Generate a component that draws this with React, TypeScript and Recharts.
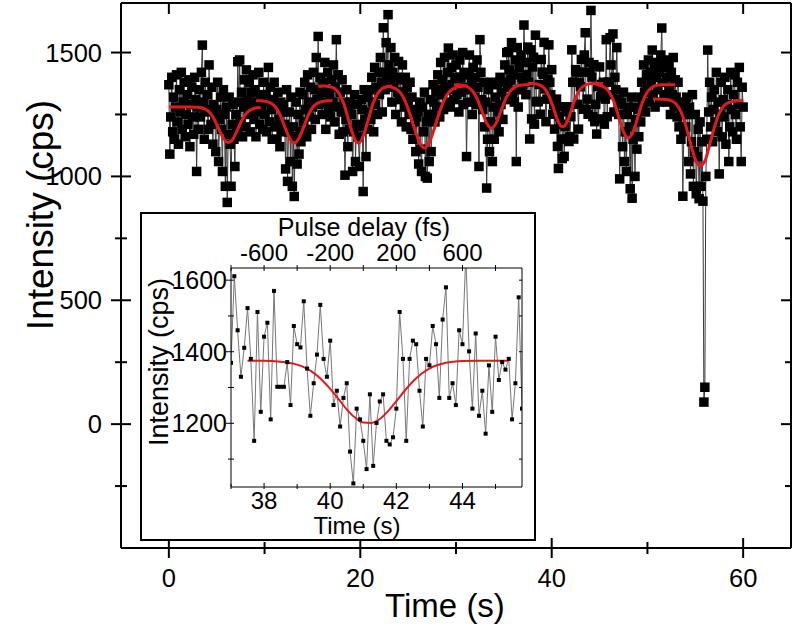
import React from 'react';
import { ComposedChart, Line, XAxis, YAxis } from 'recharts';

// ---------------- data ----------------
const mainStart = 0;
const mainStep = 0.1;
// measured intensity (cps), one value every 0.1 s from 0 s to 60 s
const mainValues: number[] = [
  1370, 1090, 1240, 1400, 1180, 1320, 1150, 1280, 1410, 1220,
  1130, 1350, 1260, 1420, 1190, 1300, 1380, 1160, 1250, 1330,
  1210, 1390, 1120, 1290, 1360, 1240, 1170, 1400, 1310, 1020,
  1280, 1190, 1350, 1240, 1420, 1530, 1300, 1150, 1380, 1260,
  1330, 1190, 1450, 1270, 1210, 1360, 1130, 1290, 1240, 1100,
  1270, 1380, 1060, 1230, 1320, 1190, 1020, 1350, 1250, 960,
  1280, 895, 1170, 1320, 1130, 960, 1210, 1290, 1150, 1040,
  1250, 1180, 1463, 1300, 1470, 1220, 1340, 1160, 1280, 1390,
  1200, 1430, 1310, 1250, 1380, 1180, 1340, 1290, 1410, 1230,
  1350, 1160, 1300, 1260, 1420, 1210, 1330, 1280, 1190, 1380,
  1250, 1330, 1180, 1300, 1440, 1220, 1360, 1270, 1150, 1310,
  1380, 1200, 1290, 1150, 1340, 1230, 1120, 1300, 1180, 1260,
  1290, 1210, 1030, 1350, 980, 1180, 1260, 1060, 1320, 960,
  1200, 919, 1160, 1300, 1050, 1250, 1090, 1340, 1140, 1180,
  1330, 1220, 1380, 1270, 1160, 1410, 1300, 1240, 1360, 1190,
  1280, 1420, 1350, 1230, 1480, 1310, 1565, 1290, 1400, 1340,
  1250, 1380, 1300, 1460, 1190, 1350, 1420, 1270, 1330, 1240,
  1390, 1300, 1450, 1220, 1360, 1552, 1280, 1410, 1170, 1340,
  1260, 1390, 1180, 1300, 1005, 1230, 1350, 1120, 1280, 1190,
  1300, 1250, 1020, 1180, 1330, 1060, 1210, 1290, 1160, 1040,
  1200, 1310, 1270, 939, 1350, 1230, 1080, 1320, 1190, 1260,
  1350, 1230, 1400, 1300, 1180, 1440, 1290, 1360, 1250, 1420,
  1330, 1480, 1380, 1260, 1600, 1420, 1350, 1540, 1400, 1653,
  1450, 1380, 1520, 1300, 1420, 1360, 1480, 1250, 1400, 1340,
  1464, 1310, 1390, 1220, 1450, 1340, 1280, 1400, 1200, 1360,
  1300, 1250, 1380, 1190, 1320, 1150, 1270, 1220, 1100, 1240,
  1260, 1050, 1300, 1110, 1020, 1280, 1180, 1340, 1000, 1220,
  993, 1250, 1060, 1310, 1100, 1250, 1370, 1300, 1220, 1340,
  1280, 1410, 1350, 1240, 1460, 1330, 1390, 1270, 1480, 1360,
  1300, 1420, 1518, 1350, 1280, 1440, 1370, 1490, 1310, 1400,
  1450, 1330, 1380, 1260, 1470, 1400, 1340, 1500, 1290, 1420,
  1360, 1080, 1300, 1410, 1490, 1350, 1380, 1250, 1440, 1320,
  1400, 1290, 1470, 1360, 1040, 1552, 1420, 1310, 1270, 1380,
  1200, 1300, 953, 1150, 1350, 1100, 1220, 1380, 1060, 1280,
  1150, 1320, 1210, 1370, 1260, 1180, 1400, 1290, 1340, 1230,
  1380, 1450, 1310, 1500, 1360, 1503, 1430, 1390, 1540, 1330,
  1410, 1300, 1470, 1060, 1520, 1280, 1440, 1350, 1490, 1400,
  1369, 1611, 1460, 1330, 1411, 1522, 1380, 1151, 1511, 1232,
  1442, 1481, 1211, 1570, 1302, 1302, 1302, 1371, 1251, 1472,
  1421, 1412, 1541, 1353, 1221, 1312, 1392, 1531, 1380, 1330,
  1431, 1251, 1291, 1191, 1271, 1312, 1121, 1032, 1241, 1211,
  1151, 1072, 1281, 1081, 1201, 1261, 1281, 1151, 1141, 1161,
  1241, 1511, 1380, 1151, 1380, 1431, 1421, 1291, 1191, 1380,
  1362, 1472, 1421, 1271, 1490, 1580, 1271, 1312, 1251, 1460,
  1421, 1670, 1401, 1241, 1451, 1221, 1291, 1171, 1362, 1232,
  1442, 1321, 1371, 1350, 1380, 1211, 1312, 1552, 1241, 1380,
  1380, 1560, 1450, 1330, 1575, 1260, 1400, 1350, 1520, 1310,
  1250, 990, 1290, 1300, 1120, 1340, 1060, 1180, 1020, 1250,
  1280, 1200, 950, 1320, 912, 1150, 1280, 1000, 1230, 1110,
  1270, 1160, 1320, 1220, 1380, 1290, 1450, 1340, 1260, 1410,
  1350, 1470, 1300, 1420, 1380, 1510, 1330, 1440, 1280, 1400,
  1460, 1350, 1420, 1300, 1490, 1599, 1380, 1440, 1330, 1470,
  1400, 1300, 1450, 1360, 1250, 1420, 1330, 1480, 1280, 1390,
  1320, 1240, 1380, 1200, 1300, 1150, 1260, 920, 1180, 1290,
  1200, 1320, 1250, 1060, 1280, 1010, 1140, 1330, 960, 1100,
  1250, 930, 1080, 1190, 910, 1220, 960, 1140, 900, 89,
  149, 1000, 1150, 1510, 1260, 1380, 1200, 1320, 1140, 1270,
  1350, 1220, 1420, 1180, 1300, 1010, 1250, 1380, 1160, 1310,
  1240, 1400, 1130, 1290, 1350, 1060, 1200, 1420, 1270, 1180,
  1330, 1410, 1250, 1150, 1380, 1290, 1440, 1200, 1060, 1360,
  1280,
];

// fitted dips (time s, intensity cps), one array per fitted window
const fitSeg1: number[][] = [[0, 1280], [1, 1280], [2, 1280], [3, 1279], [3.7, 1274], [4.2, 1261], [4.7, 1234], [5.2, 1193], [5.7, 1154], [6.2, 1137], [6.7, 1152], [7.2, 1191], [7.7, 1232], [8.2, 1259], [8.7, 1272], [9.2, 1277], [9.6, 1278]];
const fitSeg2: number[][] = [[9.1, 1305], [9.6, 1305], [10.1, 1303], [10.6, 1297], [11.1, 1282], [11.6, 1250], [12.1, 1201], [12.6, 1155], [13.1, 1134], [13.6, 1155], [14.1, 1201], [14.6, 1250], [15.1, 1282], [15.6, 1297], [16.1, 1303], [16.6, 1305], [17.1, 1305]];
const fitSeg3: number[][] = [[15.6, 1365], [16.3, 1365], [16.8, 1362], [17.3, 1355], [17.8, 1334], [18.3, 1291], [18.8, 1224], [19.3, 1162], [19.8, 1134], [20.3, 1162], [20.8, 1224], [21.3, 1291], [21.8, 1334], [22.3, 1355], [22.8, 1362], [23.3, 1365]];
const fitSeg4: number[][] = [[22.7, 1364], [23.2, 1361], [23.7, 1354], [24.2, 1337], [24.7, 1303], [25.2, 1250], [25.7, 1188], [26.2, 1136], [26.7, 1115], [27.2, 1136], [27.7, 1188], [28.2, 1250], [28.7, 1303], [29.2, 1337], [29.7, 1354], [30.2, 1361], [30.7, 1364], [31.2, 1365]];
const fitSeg5: number[][] = [[29.8, 1370], [30.2, 1370], [30.7, 1368], [31.2, 1362], [31.7, 1346], [32.2, 1314], [32.7, 1264], [33.2, 1216], [33.7, 1195], [34.2, 1216], [34.7, 1264], [35.2, 1314], [35.7, 1346], [36.2, 1362], [36.7, 1368], [37.2, 1370], [37.7, 1370]];
const fitSeg6: number[][] = [[37.5, 1375], [38.0, 1375], [38.5, 1372], [39.0, 1364], [39.25, 1355], [39.5, 1341], [39.75, 1321], [40.0, 1296], [40.25, 1268], [40.5, 1239], [40.75, 1216], [41.0, 1202], [41.25, 1201], [41.5, 1212], [41.75, 1234], [42.0, 1262], [42.25, 1291], [42.5, 1317], [42.75, 1338], [43.0, 1353], [43.5, 1369], [44.0, 1374], [44.5, 1375], [45.0, 1375], [45.37, 1375]];
const fitSeg7: number[][] = [[44.6, 1370], [45.0, 1368], [45.5, 1360], [46.0, 1341], [46.5, 1301], [47.0, 1240], [47.5, 1181], [48.0, 1155], [48.5, 1181], [49.0, 1240], [49.5, 1301], [50.0, 1341], [50.5, 1360], [51.0, 1368], [51.5, 1370], [52.0, 1370], [52.9, 1370]];
const fitSeg8: number[][] = [[50.6, 1312], [51.5, 1311], [52.0, 1310], [52.5, 1305], [53.0, 1292], [53.5, 1261], [54.0, 1206], [54.5, 1134], [55.0, 1069], [55.5, 1043], [56.0, 1062], [56.5, 1127], [57.0, 1199], [57.5, 1254], [58.0, 1285], [58.5, 1298], [59.0, 1303], [59.5, 1305], [60.0, 1305]];

// axes
const mainXTicks = [0, 10, 20, 30, 40, 50, 60];
const mainXLabels = [0, 20, 40, 60];
const mainYTicks = [-250, 0, 250, 500, 750, 1000, 1250, 1500];
const mainYLabels = [0, 500, 1000, 1500];

// inset
const insetRange = [37, 45.8];
const insetXTicks = [37, 38, 39, 40, 41, 42, 43, 44, 45];
const insetXLabels = [38, 40, 42, 44];
const insetYTicks = [1100, 1200, 1300, 1400, 1500, 1600];
const insetYLabels = [1200, 1400, 1600];
const delayZeroTime = 41; // s, zero pulse delay
const delayPerSecond = 200; // fs per s
const delayTicks = [-800, -600, -400, -200, 0, 200, 400, 600, 800];
const delayLabels = [-600, -200, 200, 600];

// ---------------- derived tables ----------------
const mainData = mainValues.map((v, i) => ({ t: +(mainStart + i * mainStep).toFixed(2), v }));
const fitSegs = [fitSeg1, fitSeg2, fitSeg3, fitSeg4, fitSeg5, fitSeg6, fitSeg7, fitSeg8].map((s) =>
  s.map(([t, v]) => ({ t, v }))
);
const insetData = mainData.filter((d) => d.t >= insetRange[0] - 1e-6 && d.t <= insetRange[1] + 1e-6);
const insetFit = fitSeg6.map(([t, v]) => ({ fs: (t - delayZeroTime) * delayPerSecond, v }));

const FONT = 'Liberation Sans, Arial, Helvetica, sans-serif';
const RED = '#e3191c';
const MAIN_X_DOMAIN = [-5, 65];
const MAIN_Y_DOMAIN = [-500, 1700];

// ---------------- tick renderers ----------------
const MainBottomTick = (p: any) => {
  const { x, y, payload } = p;
  const major = mainXLabels.includes(payload.value);
  const len = major ? 10 : 6;
  return (
    <g>
      <line x1={x} x2={x} y1={y - len} y2={y + len} stroke="#000" strokeWidth={2} />
      {major && (
        <text x={x} y={y + 39} textAnchor="middle" fontSize={25.5} fontFamily={FONT} fill="#000">
          {payload.value}
        </text>
      )}
    </g>
  );
};
const MainTopTick = (p: any) => {
  const { x, y, payload } = p;
  const major = mainXLabels.includes(payload.value);
  const len = major ? 11 : 6;
  return <line x1={x} x2={x} y1={y} y2={y + len} stroke="#000" strokeWidth={2} />;
};
const MainLeftTick = (p: any) => {
  const { x, y, payload } = p;
  const major = mainYLabels.includes(payload.value);
  const len = major ? 10 : 6;
  return (
    <g>
      <line x1={x - len} x2={x + len} y1={y} y2={y} stroke="#000" strokeWidth={2} />
      {major && (
        <text x={x - 19} y={y + 9} textAnchor="end" fontSize={25.5} fontFamily={FONT} fill="#000">
          {payload.value}
        </text>
      )}
    </g>
  );
};
const MainRightTick = (p: any) => {
  const { x, y, payload } = p;
  const major = mainYLabels.includes(payload.value);
  const len = major ? 10 : 6;
  return <line x1={x - len} x2={x} y1={y} y2={y} stroke="#000" strokeWidth={2} />;
};
const NoTick = () => <g />;

const InsetBottomTick = (p: any) => {
  const { x, y, payload } = p;
  const major = insetXLabels.includes(payload.value);
  const len = major ? 4 : 3;
  return (
    <g>
      <line x1={x} x2={x} y1={y - len} y2={y + 2} stroke="#000" strokeWidth={1} />
      {major && (
        <text x={x} y={y + 22} textAnchor="middle" fontSize={24} fontFamily={FONT} fill="#000">
          {payload.value}
        </text>
      )}
    </g>
  );
};
const InsetTopTick = (p: any) => {
  const { x, y, payload } = p;
  const major = delayLabels.includes(payload.value);
  return (
    <g>
      <line x1={x} x2={x} y1={y - 3} y2={y + 3} stroke="#000" strokeWidth={1} />
      {major && (
        <text x={x} y={y - 7} textAnchor="middle" fontSize={24} fontFamily={FONT} fill="#000">
          {payload.value}
        </text>
      )}
    </g>
  );
};
const InsetLeftTick = (p: any) => {
  const { x, y, payload } = p;
  const major = insetYLabels.includes(payload.value);
  return (
    <g>
      <line x1={x - (major ? 5 : 3)} x2={x + 3} y1={y} y2={y} stroke="#000" strokeWidth={1} />
      {major && (
        <text x={x - 4} y={y + 9} textAnchor="end" fontSize={25} fontFamily={FONT} fill="#000">
          {payload.value}
        </text>
      )}
    </g>
  );
};
const InsetRightTick = (p: any) => {
  const { x, y } = p;
  return <line x1={x - 3} x2={x} y1={y} y2={y} stroke="#000" strokeWidth={1} />;
};

const squareDot = (size: number) => (p: any) => {
  const { cx, cy, index } = p;
  if (cx == null || cy == null) return <g key={`e${index}`} />;
  return <rect key={`d${index}`} x={cx - size / 2} y={cy - size / 2} width={size} height={size} fill="#000" />;
};
const mainDot = squareDot(9.5);
const insetDot = squareDot(4);

const axisLine2 = { stroke: '#000', strokeWidth: 2 };
const axisLine1 = { stroke: '#000', strokeWidth: 1 };

// main axes (shared geometry for the data layer and the fit overlay)
const mainAxes = (visible: boolean) => [
  <XAxis
    key="xb"
    xAxisId="b"
    type="number"
    dataKey="t"
    orientation="bottom"
    domain={MAIN_X_DOMAIN}
    ticks={mainXTicks}
    interval={0}
    height={86}
    tickSize={0}
    tickMargin={0}
    tickLine={false}
    axisLine={visible ? axisLine2 : false}
    tick={visible ? MainBottomTick : NoTick}
    allowDataOverflow
    label={
      visible
        ? {
            content: () => (
              <text x={445} y={617} textAnchor="middle" fontSize={33} fontFamily={FONT} fill="#000">
                Time (s)
              </text>
            ),
          }
        : undefined
    }
  />,
  <XAxis
    key="xt"
    xAxisId="t"
    type="number"
    dataKey="t"
    orientation="top"
    domain={MAIN_X_DOMAIN}
    ticks={mainXTicks}
    interval={0}
    height={3}
    tickSize={0}
    tickMargin={0}
    tickLine={false}
    axisLine={visible ? axisLine2 : false}
    tick={visible ? MainTopTick : NoTick}
    allowDataOverflow
  />,
  <YAxis
    key="yl"
    yAxisId="l"
    type="number"
    orientation="left"
    domain={MAIN_Y_DOMAIN}
    ticks={mainYTicks}
    interval={0}
    width={121}
    tickSize={0}
    tickMargin={0}
    tickLine={false}
    axisLine={visible ? axisLine2 : false}
    tick={visible ? MainLeftTick : NoTick}
    allowDataOverflow
    label={
      visible
        ? {
            content: () => (
              <text
                x={53}
                y={215}
                transform="rotate(-90 53 215)"
                textAnchor="middle"
                fontSize={37}
                fontFamily={FONT}
                fill="#000"
              >
                Intensity (cps)
              </text>
            ),
          }
        : undefined
    }
  />,
  <YAxis
    key="yr"
    yAxisId="r"
    type="number"
    orientation="right"
    domain={MAIN_Y_DOMAIN}
    ticks={mainYTicks}
    interval={0}
    width={2}
    tickSize={0}
    tickMargin={0}
    tickLine={false}
    axisLine={visible ? axisLine2 : false}
    tick={visible ? MainRightTick : NoTick}
    allowDataOverflow
  />,
];

const abs: React.CSSProperties = { position: 'absolute', left: 0, top: 0 };

export default function App() {
  return (
    <div style={{ position: 'absolute', left: 0, top: 0, width: 793, height: 634, background: '#fff' }}>
      <div style={abs}>
        <ComposedChart width={793} height={634} margin={{ top: 0, right: 0, bottom: 0, left: 0 }}>
          {mainAxes(true)}
          <Line
            xAxisId="b"
            yAxisId="l"
            data={mainData}
            dataKey="v"
            type="linear"
            stroke="#3a3a3a"
            strokeWidth={1}
            dot={mainDot}
            activeDot={false}
            isAnimationActive={false}
          />
        </ComposedChart>
      </div>

      <div style={{ ...abs, pointerEvents: 'none' }}>
        <ComposedChart width={793} height={634} margin={{ top: 0, right: 0, bottom: 0, left: 0 }}>
          {mainAxes(false)}
          {fitSegs.map((seg, i) => (
            <Line
              key={`fit${i}`}
              xAxisId="t"
              yAxisId="r"
              data={seg}
              dataKey="v"
              type="monotone"
              stroke={RED}
              strokeWidth={3}
              dot={false}
              activeDot={false}
              isAnimationActive={false}
            />
          ))}
        </ComposedChart>
      </div>

      <div
        style={{
          position: 'absolute',
          left: 140,
          top: 212,
          width: 396,
          height: 329,
          border: '2px solid #000',
          boxSizing: 'border-box',
          background: '#fff',
        }}
      >
        <ComposedChart width={392} height={325} margin={{ top: 0, right: 0, bottom: 0, left: 0 }}>
          <XAxis
            xAxisId="b"
            type="number"
            dataKey="t"
            orientation="bottom"
            domain={insetRange}
            ticks={insetXTicks}
            interval={0}
            height={52}
            tickSize={0}
            tickMargin={0}
            tickLine={false}
            axisLine={axisLine1}
            tick={InsetBottomTick}
            allowDataOverflow
            label={{
              content: () => (
                <text x={215} y={320} textAnchor="middle" fontSize={24} fontFamily={FONT} fill="#000">
                  Time (s)
                </text>
              ),
            }}
          />
          <XAxis
            xAxisId="fs"
            type="number"
            dataKey="fs"
            orientation="top"
            domain={[(insetRange[0] - delayZeroTime) * delayPerSecond, (insetRange[1] - delayZeroTime) * delayPerSecond]}
            ticks={delayTicks}
            interval={0}
            height={54}
            tickSize={0}
            tickMargin={0}
            tickLine={false}
            axisLine={axisLine1}
            tick={InsetTopTick}
            allowDataOverflow
            label={{
              content: () => (
                <text x={222} y={22} textAnchor="middle" fontSize={25} fontFamily={FONT} fill="#000">
                  Pulse delay (fs)
                </text>
              ),
            }}
          />
          <YAxis
            yAxisId="l"
            type="number"
            orientation="left"
            domain={[1022, 1634]}
            ticks={insetYTicks}
            interval={0}
            width={89}
            tickSize={0}
            tickMargin={0}
            tickLine={false}
            axisLine={axisLine1}
            tick={InsetLeftTick}
            allowDataOverflow
            label={{
              content: () => (
                <text
                  x={26}
                  y={148}
                  transform="rotate(-90 26 148)"
                  textAnchor="middle"
                  fontSize={27}
                  fontFamily={FONT}
                  fill="#000"
                >
                  Intensity (cps)
                </text>
              ),
            }}
          />
          <YAxis
            yAxisId="r"
            type="number"
            orientation="right"
            domain={[1022, 1634]}
            ticks={insetYTicks}
            interval={0}
            width={12}
            tickSize={0}
            tickMargin={0}
            tickLine={false}
            axisLine={axisLine1}
            tick={InsetRightTick}
            allowDataOverflow
          />
          <Line
            xAxisId="b"
            yAxisId="l"
            data={insetData}
            dataKey="v"
            type="linear"
            stroke="#777"
            strokeWidth={1}
            dot={insetDot}
            activeDot={false}
            isAnimationActive={false}
          />
          <Line
            xAxisId="fs"
            yAxisId="r"
            data={insetFit}
            dataKey="v"
            type="monotone"
            stroke={RED}
            strokeWidth={2}
            dot={false}
            activeDot={false}
            isAnimationActive={false}
          />
        </ComposedChart>
      </div>
    </div>
  );
}
